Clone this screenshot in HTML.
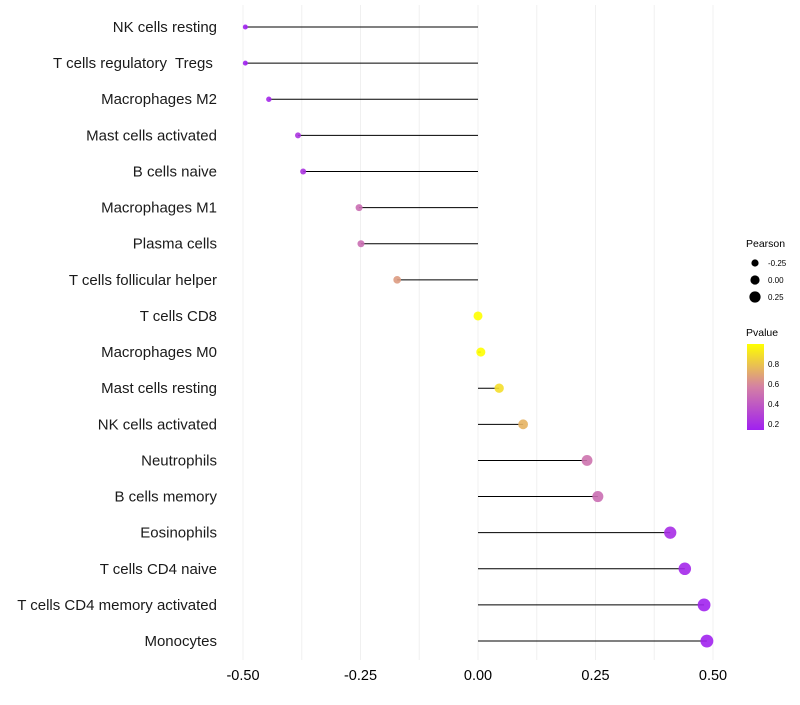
<!DOCTYPE html>
<html><head><meta charset="utf-8"><style>
body{margin:0;background:#fff;font-family:"Liberation Sans",sans-serif}
text{white-space:pre}
</style></head><body>
<svg id="chart" width="800" height="700" xmlns="http://www.w3.org/2000/svg">
<defs><linearGradient id="pg" x1="0" y1="1" x2="0" y2="0">
<stop offset="0" stop-color="#a020f0"/><stop offset="0.5" stop-color="#d480a4"/><stop offset="1" stop-color="#ffff00"/></linearGradient></defs>
<g id="grid"></g><g id="marks"></g><g id="labels"></g>
<g font-size="10">
<text x="746" y="247" font-size="10.5">Pearson</text>
<circle cx="755" cy="263" r="3.6" fill="#000"/><text x="768" y="266" font-size="8">-0.25</text>
<circle cx="755" cy="280" r="4.6" fill="#000"/><text x="768" y="283" font-size="8">0.00</text>
<circle cx="755" cy="297" r="5.6" fill="#000"/><text x="768" y="300" font-size="8">0.25</text>
<text x="746" y="336" font-size="10.5">Pvalue</text>
<rect x="747" y="344" width="17" height="86" fill="url(#pg)"/>
<text x="768" y="367" font-size="8">0.8</text><text x="768" y="387" font-size="8">0.6</text>
<text x="768" y="407" font-size="8">0.4</text><text x="768" y="427" font-size="8">0.2</text>
</g>
</svg>
<script>
const categories=["NK cells resting","T cells regulatory  Tregs ","Macrophages M2","Mast cells activated","B cells naive","Macrophages M1","Plasma cells","T cells follicular helper","T cells CD8","Macrophages M0","Mast cells resting","NK cells activated","Neutrophils","B cells memory","Eosinophils","T cells CD4 naive","T cells CD4 memory activated","Monocytes"];
const pearson=[-0.495,-0.495,-0.445,-0.383,-0.372,-0.253,-0.249,-0.172,0.0,0.006,0.045,0.096,0.232,0.255,0.409,0.44,0.481,0.487];
const pvalue=[0.17,0.17,0.2,0.25,0.25,0.48,0.48,0.64,0.99,0.97,0.86,0.72,0.5,0.48,0.22,0.2,0.18,0.18];
const xticks=[-0.5,-0.25,0,0.25,0.5];
const xLabels=["-0.50","-0.25","0.00","0.25","0.50"];
const NS="http://www.w3.org/2000/svg";
const X=v=>478+v*470;
const Y=i=>27+i*36.12;
function col(p){
  const stops=[[0.17,[160,32,240]],[0.55,[212,128,164]],[0.97,[255,255,0]]];
  p=Math.max(0.17,Math.min(0.97,p));
  let a=stops[0],b=stops[1];if(p>0.55){a=stops[1];b=stops[2];}
  const t=(p-a[0])/(b[0]-a[0]);
  return "rgb("+a[1].map((c,k)=>Math.round(c+(b[1][k]-c)*t)).join(",")+")";
}
function mk(tag,attrs,parent){const e=document.createElementNS(NS,tag);for(const k in attrs)e.setAttribute(k,attrs[k]);document.getElementById(parent).appendChild(e);return e;}
for(let v=-0.5;v<=0.5001;v+=0.125){
  const g=mk("line",{x1:X(v),x2:X(v),y1:5,y2:660,stroke:"#f0f0f0","stroke-width":1},"grid");
  
  
}
xticks.forEach((v,i)=>{
  const t=mk("text",{x:X(v),y:680,"text-anchor":"middle","font-size":"14.5",fill:"#000"},"labels");
  t.textContent=xLabels[i];
  
  
});
categories.forEach((c,i)=>{
  const y=Y(i);
  const l=mk("line",{x1:X(0),x2:X(pearson[i]),y1:y,y2:y,stroke:"#000","stroke-width":1},"marks");
  
  
  const p=mk("circle",{cx:X(pearson[i]),cy:y,r:4.5+4*pearson[i],fill:col(pvalue[i]),"fill-opacity":0.9},"marks");
  
  
  const t=mk("text",{x:217,y:y+5,"text-anchor":"end","font-size":"15",fill:"#1a1a1a"},"labels");
  t.textContent=c;
  
  
});
</script>
</body></html>
